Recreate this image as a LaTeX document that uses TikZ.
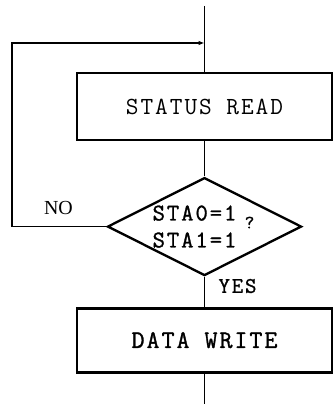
\documentclass[tikz,border=0pt]{standalone}
\usepackage{fontspec}
\setmainfont{Liberation Serif}
\newfontfamily\typefont{Latin Modern Mono}[LetterSpace=8]
\newfontfamily\heavyfont{Latin Modern Mono}[LetterSpace=8, FakeBold=1.2]
\usetikzlibrary{shapes.geometric, arrows.meta, positioning}

\begin{document}
\begin{tikzpicture}[
    x=0.03cm, y=-0.03cm,
    node distance=1.05cm,
    box/.style={rectangle, draw, line width=2.4pt, minimum width=7.65cm, minimum height=2.01cm, font=\typefont\fontsize{21}{24}\selectfont},
    decision/.style={diamond, draw, line width=2pt, minimum width=5.82cm, minimum height=2.94cm, inner sep=0pt},
    cond/.style={align=left, inner sep=0pt, font=\heavyfont\fontsize{20.5}{23}\selectfont},
    qmark/.style={font=\heavyfont\fontsize{16}{18}\selectfont},
    tag/.style={font=\fontsize{17}{20}\selectfont},
    ttag/.style={font=\heavyfont\fontsize{19}{21}\selectfont},
    line/.style={line width=1.3pt},
    arrow/.style={line, -{Latex[length=1.8mm, width=1.4mm]}}
]
\useasboundingbox (0,0) rectangle (334,404);

\node[box] (sread) at (204.5,106.5) {STATUS READ};
\node[decision, below=1.05cm of sread] (check) {};
\node[cond, xshift=-0.3cm] (sta) at (check) {STA0=1\\STA1=1};
\node[qmark, xshift=1.35cm, yshift=0.12cm] (ask) at (check) {?};
\node[box, minimum height=1.92cm, below=0.9cm of check, font=\heavyfont\fontsize{21.5}{24}\selectfont] (dwrite) {DATA WRITE};

\coordinate (top) at (204.5,6);
\coordinate (ret) at (204.5,43);
\coordinate (loop) at (12,43);
\coordinate (bottom) at (204.5,404);

\draw[line] (top) -- (sread);
\draw[line] (sread) -- (check);
\draw[line] (check) -- (dwrite);
\draw[line] (dwrite) -- (bottom);
\draw[arrow] (check.west) -| (loop) -- (ret);

\node[tag] (no) at (58.5,208) {NO};
\node[ttag] (yes) at (237.5,286) {YES};

\end{tikzpicture}
\end{document}
